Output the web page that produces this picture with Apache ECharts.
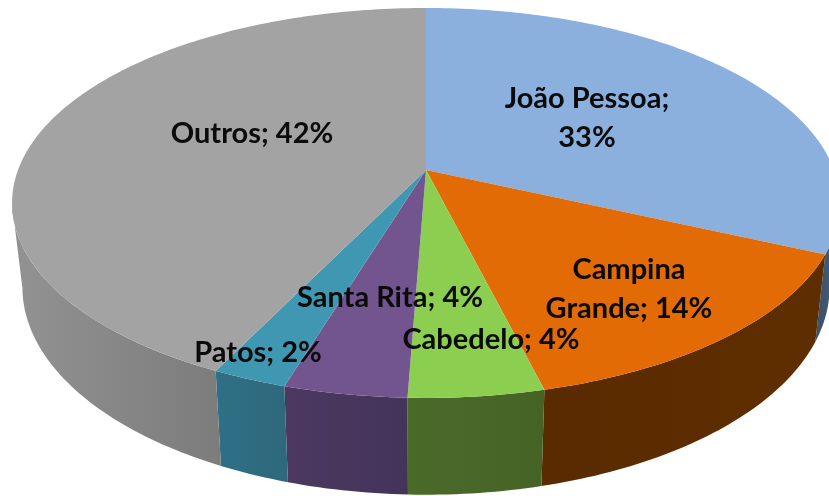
<!DOCTYPE html>
<html>
<head>
<meta charset="utf-8">
<style>
  html, body { margin: 0; padding: 0; background: #fff; }
  #main { width: 829px; height: 496px; }
</style>
</head>
<body>
<div id="main"></div>
<script src="https://cdn.jsdelivr.net/npm/echarts@6/dist/echarts.min.js"></script>
<script>
var cities = ['João Pessoa', 'Campina Grande', 'Cabedelo', 'Santa Rita', 'Patos', 'Outros'];
// printed percentages
var printedPct = [33, 14, 4, 4, 2, 42];
// slice sizes as measured on the picture
var sliceShare = [31.8, 14.3, 4.5, 4.1, 2.5, 42.8];

// colours and label placement, not data
var topColors = ['#8BB0DE', '#E26B05', '#8CCF50', '#72558F', '#4097B2', '#A3A3A3'];
var wallColors = [
  ['#3A5068', '#44607E'],
  ['#5A2B00', '#5F2E00'],
  ['#4A6A2A', '#466326'],
  ['#4C3860', '#44345A'],
  ['#2F7086', '#2E687C'],
  ['#929292', '#7C7C7C']
];
var labelLines = ['João Pessoa;\n33%', 'Campina\nGrande; 14%', 'Cabedelo; 4%', 'Santa Rita; 4%', 'Patos; 2%', 'Outros; 42%'];
var labelSpots = [[587, 118], [629, 289], [491, 340], [390, 298], [258, 353], [252, 134]];

// perspective view of the disc
var view = { cx: 426, cy: 170, R: 408, H: 189.4, k: 0.169 };
var wallView = { sx: 0.975, sy: 1.065, dy: 82 };
// part of the rim facing the viewer, in degrees from the top
var rimFrom = 100, rimTo = 260;

function topPoint(deg) {
  var a = deg * Math.PI / 180;
  var u = Math.sin(a), v = -Math.cos(a);
  var f = 1 / (1 - view.k * v);
  return [view.cx + view.R * u * f, view.cy + view.H * v * f];
}
function bottomPoint(deg) {
  var p = topPoint(deg);
  return [view.cx + (p[0] - view.cx) * wallView.sx, view.cy + wallView.dy + (p[1] - view.cy) * wallView.sy];
}
function sliceAngles(i) {
  var total = sliceShare.reduce(function(s, v) { return s + v; }, 0);
  var before = sliceShare.slice(0, i).reduce(function(s, v) { return s + v; }, 0);
  return [before / total * 360, (before + sliceShare[i]) / total * 360];
}
function arc(from, to, fn) {
  var pts = [];
  var n = Math.max(2, Math.ceil(Math.abs(to - from)));
  for (var j = 0; j <= n; j++) {
    pts.push(fn(from + (to - from) * j / n));
  }
  return pts;
}

var chart = echarts.init(document.getElementById('main'));
var seriesData = sliceShare.map(function(v, i) { return { name: cities[i], value: [i, v, printedPct[i]] }; });

chart.setOption({
  animation: false,
  series: [
    { // walls
      type: 'custom',
      coordinateSystem: 'none',
      silent: true,
      z: 1,
      data: seriesData,
      renderItem: function(params, api) {
        var i = api.value(0);
        var ang = sliceAngles(i);
        // only the front of the rim can be seen
        var from = Math.max(ang[0], rimFrom), to = Math.min(ang[1], rimTo);
        var pts = arc(from, to, topPoint).concat(arc(to, from, bottomPoint));
        return {
          type: 'polygon',
          shape: { points: pts },
          style: {
            fill: new echarts.graphic.LinearGradient(0, 0, 1, 0, [
              { offset: 0, color: wallColors[i][0] },
              { offset: 1, color: wallColors[i][1] }
            ])
          }
        };
      }
    },
    { // top faces
      type: 'custom',
      coordinateSystem: 'none',
      silent: true,
      z: 2,
      data: seriesData,
      renderItem: function(params, api) {
        var i = api.value(0);
        var ang = sliceAngles(i);
        var pts = [[view.cx, view.cy]].concat(arc(ang[0], ang[1], topPoint));
        return {
          type: 'polygon',
          shape: { points: pts },
          style: { fill: topColors[i] }
        };
      }
    },
    { // labels
      type: 'custom',
      coordinateSystem: 'none',
      silent: true,
      z: 3,
      data: seriesData,
      renderItem: function(params, api) {
        var i = api.value(0);
        return {
          type: 'text',
          x: labelSpots[i][0],
          y: labelSpots[i][1],
          style: {
            text: labelLines[i],
            fill: '#0b0b0b',
            font: 'bold 29px Lato, "Open Sans", sans-serif',
            lineHeight: 39,
            align: 'center',
            verticalAlign: 'middle'
          }
        };
      }
    }
  ]
});
</script>
</body>
</html>
